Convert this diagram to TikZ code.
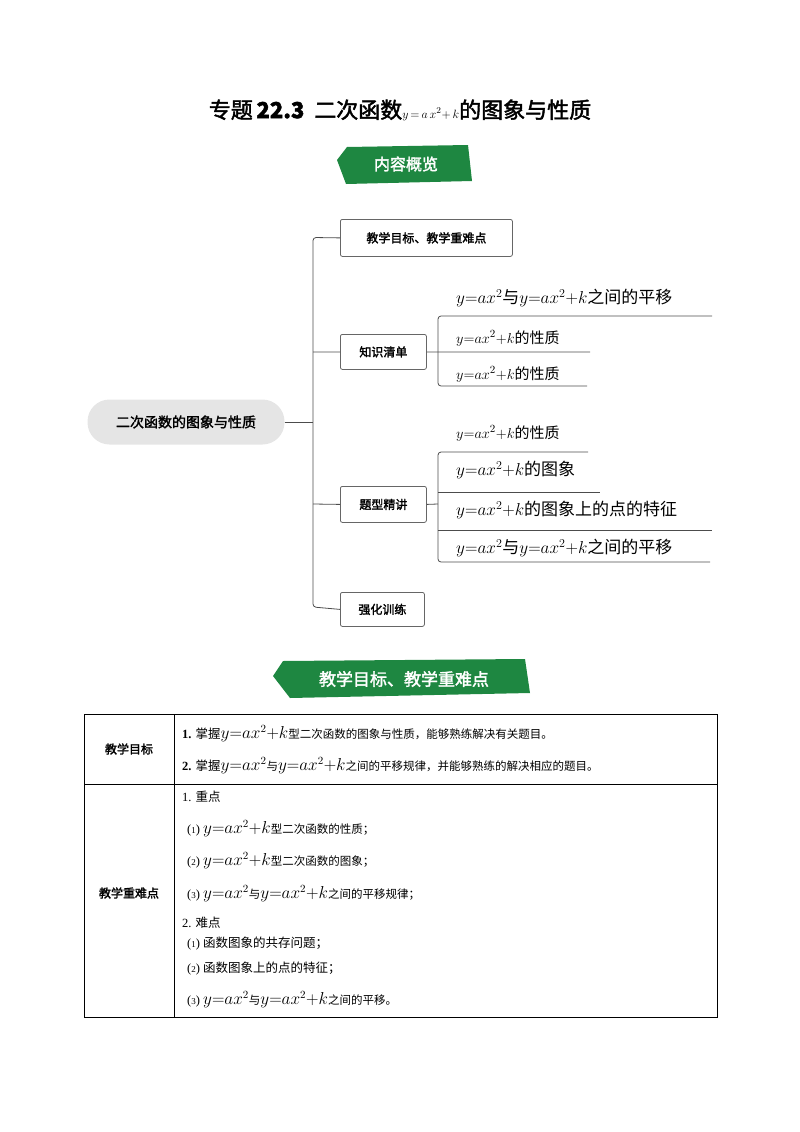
\documentclass[tikz,border=0pt]{standalone}
\usepackage{fontspec}
\setmainfont{Liberation Serif}
\newfontfamily\cjk{Noto Sans CJK SC}
\newfontfamily\cjkb{Noto Sans CJK SC}[FakeBold=2]
\begin{document}
\begin{tikzpicture}[x=1pt,y=-1pt,
  br/.style={draw=black!70,line width=0.8pt,rounded corners=3pt},
  bx/.style={draw=black!60,line width=0.8pt,rounded corners=2pt,fill=white,font=\cjkb\fontsize{12}{12}\selectfont,inner sep=0pt,anchor=north west},
  leaf/.style={anchor=south west,font=\fontsize{17}{17}\selectfont,inner sep=1pt},
  ul/.style={draw=black!70,line width=0.8pt},
  cell/.style={anchor=west,font=\fontsize{12.5}{13}\selectfont,inner sep=0pt},
  ban/.style={fill=green!45!black!85!blue!90,draw=none}]
\useasboundingbox (0,0) rectangle (800,1132);
\node (title) at (400,110) {\cjkb\fontsize{22}{22}\selectfont 专题\,\textbf{22.3}\ \ 二次函数{\normalfont\fontsize{13}{13}\selectfont$y\,{=}\,a\,x^2{+}\,k$}的图象与性质};
% banner 1
\fill[ban,fill={rgb,255:red,30;green,135;blue,65}] (347,147) -- (468,145) -- (472,181) -- (346,184) -- (337,160) -- cycle;
\node[text=white] (b1) at (406,164) {\cjkb\fontsize{16}{16}\selectfont 内容概览};
% mind map
\node[fill=black!10,rounded corners=22pt,minimum width=197pt,minimum height=45pt,font=\cjkb\fontsize{14}{14}\selectfont] (root) at (186,422) {二次函数的图象与性质};
\node[bx,minimum width=172pt,minimum height=37pt] (n1) at (340,219) {\hspace*{0pt}};
\node at (n1.center) {\cjkb\fontsize{12}{12}\selectfont 教学目标、教学重难点};
\node[bx,minimum width=86pt,minimum height=35pt] (n2) at (340,334) {};
\node at (n2.center) {\cjkb\fontsize{12}{12}\selectfont 知识清单};
\node[bx,minimum width=86pt,minimum height=36pt] (n3) at (340,486) {};
\node at (n3.center) {\cjkb\fontsize{12}{12}\selectfont 题型精讲};
\node[bx,minimum width=84pt,minimum height=34pt] (n4) at (340,592) {};
\node at (n4.center) {\cjkb\fontsize{12}{12}\selectfont 强化训练};
\coordinate (j) at (313,422);
\draw[br] (root.east) -- (j);
\draw[br] (n1.west) -- (313,237.5) -- (313,607) -- (n4.west);
\draw[br] (313,352) -- (n2.west);
\draw[br] (313,504) -- (n3.west);
% leaves of n2
\draw[br] (712,316) -- (438,316) -- (438,386) -- (587,386);
\draw[ul] (n2.east) -- (590,352);
\node[leaf] (l1) at (455,308) {$y{=}ax^2${\cjk 与}$y{=}ax^2{+}k${\cjk 之间的平移}};
\node[leaf,font=\fontsize{15}{15}\selectfont] (l2) at (455,347) {$y{=}ax^2{+}k${\cjk 的性质}};
\node[leaf,font=\fontsize{15}{15}\selectfont] (l3) at (455,383) {$y{=}ax^2{+}k${\cjk 的性质}};
% leaves of n3
\draw[br] (588,452) -- (438,452) -- (438,562) -- (710,562);
\draw[ul] (438,492) -- (600,492);
\draw[ul] (438,530) -- (712,530);
\draw[ul] (n3.east) -- (438,504);
\node[leaf,font=\fontsize{15}{15}\selectfont] (m1) at (455,442) {$y{=}ax^2{+}k${\cjk 的性质}};
\node[leaf] (m2) at (455,480) {$y{=}ax^2{+}k${\cjk 的图象}};
\node[leaf] (m3) at (455,520) {$y{=}ax^2{+}k${\cjk 的图象上的点的特征}};
\node[leaf] (m4) at (455,558) {$y{=}ax^2${\cjk 与}$y{=}ax^2{+}k${\cjk 之间的平移}};
% banner 2
\fill[fill={rgb,255:red,30;green,135;blue,65}] (283,661) -- (525,659) -- (530,693) -- (290,698) -- (273,676) -- cycle;
\node[text=white] (b2) at (404,679) {\cjkb\fontsize{17}{17}\selectfont 教学目标、教学重难点};
% table
\draw[line width=0.8pt] (84,714) rectangle (717,1017);
\draw[line width=0.8pt] (174,714) -- (174,1017);
\draw[line width=0.8pt] (84,784) -- (717,784);
\node (h1) at (129,749) {\cjkb\fontsize{12}{12}\selectfont 教学目标};
\node (h2) at (129,893) {\cjkb\fontsize{12}{12}\selectfont 教学重难点};
\newcommand{\eqA}{{\fontsize{16}{16}\selectfont$y{=}ax^2{+}k$}}
\newcommand{\eqB}{{\fontsize{16}{16}\selectfont$y{=}ax^2$}}
\node[cell] (r1) at (182,734) {\textbf{1.} {\cjk 掌握}\eqA{\cjk\fontsize{11.5}{12}\selectfont 型二次函数的图象与性质，能够熟练解决有关题目。}};
\node[cell] (r2) at (182,766) {\textbf{2.} {\cjk 掌握}\eqB{\cjk\fontsize{11.5}{12}\selectfont 与}\eqA{\cjk\fontsize{11.5}{12}\selectfont 之间的平移规律，并能够熟练的解决相应的题目。}};
\node[cell] (s1) at (182,797) {1. {\cjk 重点}};
\node[cell] (s2) at (187,829) {({\small 1}) \eqA{\cjk\fontsize{11.5}{12}\selectfont 型二次函数的性质；}};
\node[cell] (s3) at (187,861) {({\small 2}) \eqA{\cjk\fontsize{11.5}{12}\selectfont 型二次函数的图象；}};
\node[cell] (s4) at (187,894) {({\small 3}) \eqB{\cjk\fontsize{11.5}{12}\selectfont 与}\eqA{\cjk\fontsize{11.5}{12}\selectfont 之间的平移规律；}};
\node[cell] (s5) at (182,923) {2. {\cjk 难点}};
\node[cell] (s6) at (187,944) {({\small 1}) {\cjk 函数图象的共存问题；}};
\node[cell] (s7) at (187,969) {({\small 2}) {\cjk 函数图象上的点的特征；}};
\node[cell] (s8) at (187,1000) {({\small 3}) \eqB{\cjk\fontsize{11.5}{12}\selectfont 与}\eqA{\cjk\fontsize{11.5}{12}\selectfont 之间的平移。}};
\end{tikzpicture}
\end{document}
